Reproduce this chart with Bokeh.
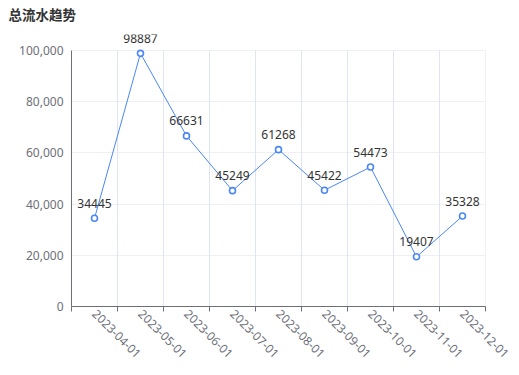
import math
from bokeh.plotting import figure
from bokeh.models import (ColumnDataSource, FixedTicker, NumeralTickFormatter,
                          Range1d, LabelSet, Title)
from bokeh.embed import file_html
from bokeh.resources import INLINE
from bokeh.core.properties import value

title_text = "总流水趋势"
dates = ["2023-04-01", "2023-05-01", "2023-06-01", "2023-07-01", "2023-08-01",
         "2023-09-01", "2023-10-01", "2023-11-01", "2023-12-01"]
totals = [34445, 98887, 66631, 45249, 61268, 45422, 54473, 19407, 35328]
y_ticks = [0, 20000, 40000, 60000, 80000, 100000]
y_max = 100000

n = len(dates)
centers = [i + 0.5 for i in range(n)]
bounds = [float(i) for i in range(n + 1)]

# frame extends a little above the 100,000 line so the top value label is not clipped
FRAME_TOP, AXIS_TOP, AXIS_BOTTOM = 34, 50, 306
y_top = y_max * (AXIS_BOTTOM - FRAME_TOP) / (AXIS_BOTTOM - AXIS_TOP)

src = ColumnDataSource(dict(x=centers, y=totals, lab=[str(v) for v in totals]))

FONT = "Noto Sans"
AX = "#6e7079"
LINE = "#4a86f7"

p = figure(width=519, height=375, output_backend="svg", toolbar_location=None,
           x_range=Range1d(0, n), y_range=Range1d(0, y_top),
           min_border_left=71, min_border_right=34, min_border_top=FRAME_TOP,
           min_border_bottom=69, outline_line_color=None,
           background_fill_color="white", border_fill_color="white")

# thin blank spacer between the frame and the title (lifts the title up)
spacer = Title(text=" ", standoff=3, text_font="Noto Sans CJK SC",
               text_font_size="4px", text_color="white")
p.add_layout(spacer, "above")
t = Title(text=title_text, align="left", offset=-63, standoff=0,
          text_font="Noto Sans CJK SC", text_font_size="13.5px",
          text_font_style="bold", text_color="#333333")
p.add_layout(t, "above")

# vertical split lines between categories, only up to the axis max
p.segment(x0=bounds, y0=[0] * len(bounds), x1=bounds, y1=[y_max] * len(bounds),
          line_color="#dfe5f2", line_width=1)

p.line("x", "y", source=src, line_color=LINE, line_width=1)
p.scatter("x", "y", source=src, size=6, marker="circle", line_color=LINE,
          line_width=1.6, fill_color="white")
labels = LabelSet(x="x", y="y", text="lab", source=src, text_align="center",
                  text_baseline="middle", y_offset=15, text_font=value(FONT),
                  text_font_size=value("12px"), text_color=value("#333333"))
p.add_layout(labels)

# x axis
xa = p.xaxis[0]
xa.ticker = FixedTicker(ticks=centers, minor_ticks=bounds)
xa.major_label_overrides = {c: d for c, d in zip(centers, dates)}
xa.major_label_orientation = -math.pi / 4
xa.major_tick_out = 0
xa.major_tick_in = 0
xa.minor_tick_out = 5
xa.minor_tick_in = 0
xa.minor_tick_line_color = AX
xa.axis_line_color = AX
xa.major_label_text_color = AX
xa.major_label_text_font = FONT
xa.major_label_text_font_size = "12px"
xa.major_label_standoff = 0

# y axis
ya = p.yaxis[0]
ya.ticker = FixedTicker(ticks=y_ticks)
ya.formatter = NumeralTickFormatter(format="0,0")
ya.bounds = (0, y_max)
ya.major_tick_out = 0
ya.major_tick_in = 0
ya.minor_tick_out = 0
ya.minor_tick_in = 0
ya.axis_line_color = AX
ya.major_label_text_color = AX
ya.major_label_text_font = FONT
ya.major_label_text_font_size = "12px"
ya.major_label_standoff = 8

p.xgrid.visible = False
p.ygrid.ticker = FixedTicker(ticks=y_ticks)
p.ygrid.grid_line_color = "#eef0f4"

open("out.html", "w").write(file_html(p, INLINE))
